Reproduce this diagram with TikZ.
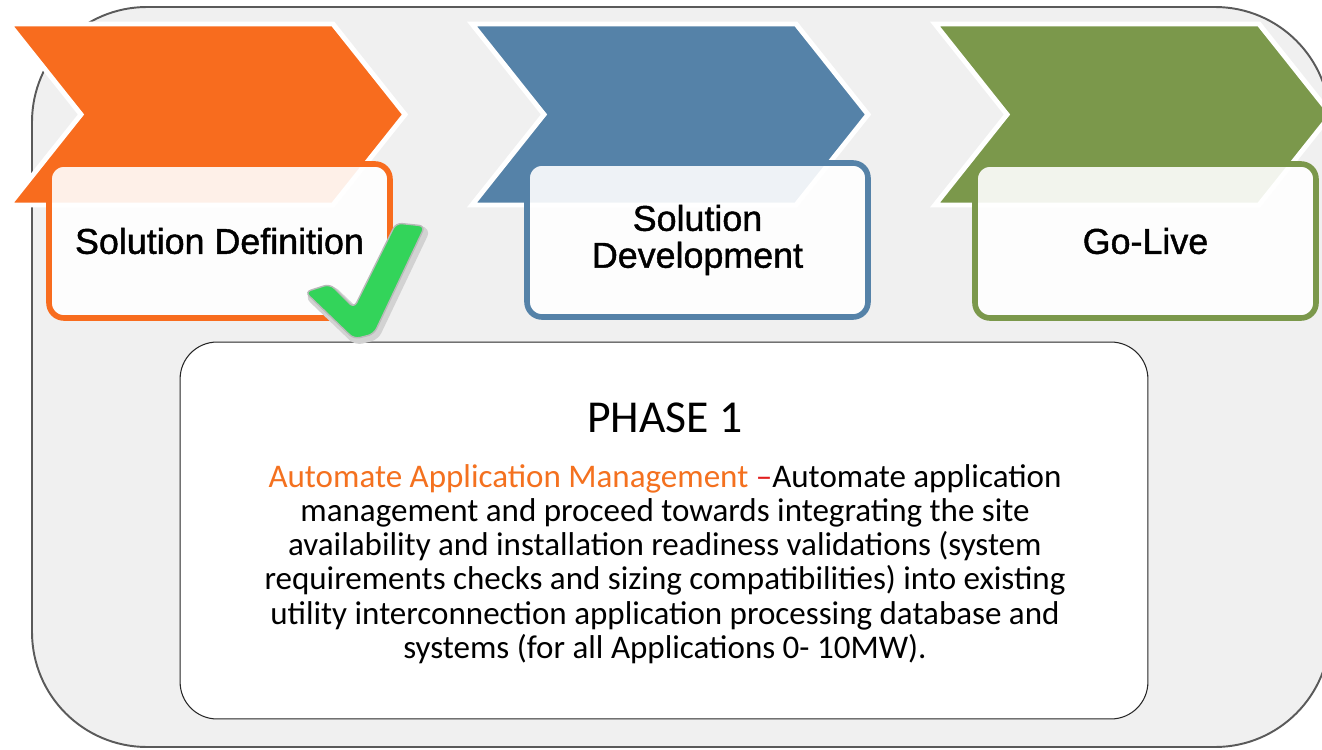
\documentclass[tikz,border=0pt]{standalone}
\usepackage{fontspec}
\setmainfont{Carlito}
\newfontfamily\labelfont[FakeBold=1.2]{Liberation Sans}

\definecolor{sdorange}{HTML}{F86C1E}
\definecolor{sdblue}{HTML}{5582A8}
\definecolor{sdgreen}{HTML}{7B984B}
\definecolor{framefill}{HTML}{F0F0F0}
\definecolor{framedraw}{HTML}{5A5A5A}
\definecolor{tickgreen}{HTML}{33D45A}
\definecolor{titleorange}{HTML}{F4711F}
\definecolor{dashred}{HTML}{E21F1F}

\tikzset{
chevron/.style={draw=white,line width=2.8pt,line join=miter},
stagebox/.style={draw,rounded corners=0.3cm,line width=3.2pt,fill=white,fill opacity=0.9,text opacity=1,
  minimum width=6.82cm,minimum height=3.08cm,inner sep=0pt,align=center,
  font=\labelfont\fontsize{20.4}{21}\selectfont},
phasebox/.style={draw=black!85,rounded corners=0.74cm,line width=0.6pt,fill=white,
  minimum width=19.36cm,minimum height=7.54cm},
tickshadow/.style={draw=gray!35,line width=3.5pt,fill=gray!60,rounded corners=0.12cm},
tickmark/.style={draw=gray!55,line width=0.8pt,fill=tickgreen,rounded corners=0.12cm}
}

\begin{document}
\begin{tikzpicture}[x=0.02cm,y=-0.02cm]

\useasboundingbox
(0,0)
rectangle
(1322,750);

\clip
(0,0)
rectangle
(1322,750);

\draw[framedraw,fill=framefill,line width=1.1pt,rounded corners=2.3cm]
(32,7)
rectangle
(1330,747);

\foreach \cx/\col in {9/sdorange,472/sdblue,935/sdgreen}
\fill[chevron,fill=\col]
(\cx,24)
-- ++(324,0)
-- ++(72,90.5)
-- ++(-72,90.5)
-- ++(-324,0)
-- ++(72,-90.5)
-- cycle;

\node[stagebox,draw=sdorange]
(sdef)
at (219.5,241)
{Solution Definition};

\node[stagebox,draw=sdblue]
(sdev)
at (697.5,240)
{Solution\\Development};

\node[stagebox,draw=sdgreen]
(golive)
at (1145.5,241)
{Go-Live};

\node[phasebox]
(phase)
at (664,530.5)
{};

\node[font=\fontsize{26}{30}\selectfont,anchor=base]
(phasetitle)
at (665,432)
{PHASE 1};

\node[font=\fontsize{18.8}{19.5}\selectfont,align=center]
(phasetext)
at (665,564)
{\textcolor{titleorange}{Automate Application Management} \textcolor{dashred}{--}Automate application\\
management and proceed towards integrating the site\\
availability and installation readiness validations (system\\
requirements checks and sizing compatibilities) into existing\\
utility interconnection application processing database and\\
systems (for all Applications 0- 10MW).};

\filldraw[tickshadow]
(308,296)
-- (332,288)
-- (356,311)
-- (399,227)
-- (427,230)
-- (376,337)
-- (356,342)
-- cycle;

\filldraw[tickmark]
(305,292)
-- (330,284)
-- (354,308)
-- (396,223)
-- (425,226)
-- (374,334)
-- (354,339)
-- cycle;

\end{tikzpicture}
\end{document}
